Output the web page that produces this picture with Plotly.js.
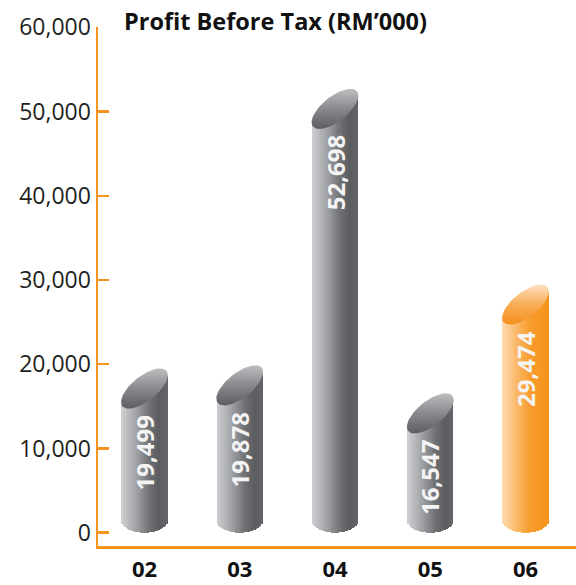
<!DOCTYPE html>
<html>
<head>
<meta charset="utf-8">
<script src="https://cdn.plot.ly/plotly-3.0.1.min.js"></script>
<style>html,body{margin:0;padding:0;background:#fff;}#chart{width:576px;height:585px;}</style>
</head>
<body>
<div id="chart"></div>
<script>
// ---- data ----
const years = ['02', '03', '04', '05', '06'];
const profit = [19499, 19878, 52698, 16547, 29474];
const profitLabels = ['19,499', '19,878', '52,698', '16,547', '29,474'];
const yTickVals = [0, 10000, 20000, 30000, 40000, 50000, 60000];
const chartTitle = 'Profit Before Tax (RM’000)';
const highlightYear = '06';

// ---- layout constants ----
const W = 576, H = 585;
const M = {l: 98, r: 0, t: 27, b: 39};
const xRange = [-0.488, 4.530];
const yRange = [-1579, 60036];
const plotW = W - M.l - M.r, plotH = H - M.t - M.b;
const xpp = (xRange[1] - xRange[0]) / plotW;   // x units per pixel
const ypp = (yRange[1] - yRange[0]) / plotH;   // y units per pixel

const ORANGE = '#f7941d';
const TXT = '#231f20';

// cylinder geometry (pixels)
const R = 23;          // half width
const shear = 0.58;    // slant of the cut top
const capB = 15;       // minor half-axis of the top ellipse
const drop = Math.sqrt(capB * capB + (shear * R) * (shear * R)); // top point above ellipse centre
const botB = 12;       // bottom ellipse half-height

function lerpColor(stops, t) {
  for (let k = 0; k < stops.length - 1; k++) {
    const [t0, c0] = stops[k], [t1, c1] = stops[k + 1];
    if (t >= t0 && t <= t1) {
      const f = (t - t0) / (t1 - t0 || 1);
      const a = [1, 3, 5].map(j => parseInt(c0.substr(j, 2), 16));
      const b = [1, 3, 5].map(j => parseInt(c1.substr(j, 2), 16));
      const c = a.map((v, j) => Math.round(v + (b[j] - v) * f));
      return 'rgb(' + c.join(',') + ')';
    }
  }
  return stops[stops.length - 1][1];
}
const grayBody = [[0, '#cfd0d2'], [0.3, '#a4a6a9'], [0.62, '#6f7073'], [0.82, '#5c5d60'], [1, '#646568']];
const orangeBody = [[0, '#fedcb2'], [0.3, '#fbb96a'], [0.62, '#f89b2c'], [1, '#f7941d']];

const traces = [];
const N = 32;
const sliceW = (2 * R / N) * xpp * 1.25;
for (let k = 0; k < N; k++) {
  const t = (k + 0.5) / N;
  const dx = -R + t * 2 * R;              // px offset from centre
  const xs = years.map((_, i) => i + dx * xpp);
  const bases = years.map(() => (botB - botB * Math.sqrt(Math.max(0, 1 - (dx / R) * (dx / R)))) * ypp);
  const tops = profit.map(v => v - drop * ypp + shear * dx * ypp);
  traces.push({
    type: 'bar',
    x: xs,
    base: bases,
    y: tops.map((tp, i) => tp - bases[i]),
    width: sliceW,
    marker: {
      color: years.map(y => lerpColor(y === highlightYear ? orangeBody : grayBody, t)),
      line: {width: 0}
    },
    hoverinfo: 'skip',
    showlegend: false
  });
}

// slanted top caps
years.forEach((yr, i) => {
  const cy = profit[i] - drop * ypp;
  const xs = [], ys = [];
  for (let a = 0; a <= 72; a++) {
    const th = a / 72 * 2 * Math.PI;
    xs.push(i + (R + 0.4) * Math.cos(th) * xpp);
    ys.push(cy + (capB * Math.sin(th) + shear * R * Math.cos(th)) * ypp);
  }
  const hi = yr === highlightYear;
  traces.push({
    type: 'scatter', mode: 'lines', x: xs, y: ys,
    fill: 'toself',
    line: {width: 0, color: 'rgba(0,0,0,0)'},
    fillgradient: {
      type: 'vertical',
      colorscale: hi
        ? [[0, '#f48f1e'], [0.5, '#f9ad55'], [1, '#fee2c2']]
        : [[0, '#5d5e61'], [0.5, '#88898c'], [1, '#bdbec0']]
    },
    hoverinfo: 'skip', showlegend: false
  });
});

const annotations = years.map((yr, i) => ({
  x: i, y: profit[i] - 45 * ypp, xref: 'x', yref: 'y',
  text: '<b>' + profitLabels[i] + '</b>',
  textangle: -90, showarrow: false,
  xanchor: 'center', yanchor: 'top',
  font: {family: 'Open Sans, sans-serif', size: 24, color: '#f4f4f4'}
}));

const layout = {
  width: W, height: H,
  margin: M,
  paper_bgcolor: '#ffffff', plot_bgcolor: '#ffffff',
  barmode: 'overlay',
  bargap: 0,
  showlegend: false,
  title: {
    text: '<b>' + chartTitle + '</b>',
    font: {family: 'Open Sans, sans-serif', size: 23.5, color: '#111111'},
    x: 124 / W, xref: 'container', xanchor: 'left',
    y: 1 - 22 / H, yref: 'container', yanchor: 'middle'
  },
  xaxis: {
    range: xRange, fixedrange: true,
    tickvals: years.map((_, i) => i), ticktext: years.map(y => '<b>' + y + '</b>'),
    ticks: '', showgrid: false, zeroline: false,
    showline: true, linecolor: ORANGE, linewidth: 2.5,
    ticklabelstandoff: 2,
    tickfont: {family: 'Open Sans, sans-serif', size: 22, color: '#111111'}
  },
  yaxis: {
    range: yRange, fixedrange: true,
    tickvals: yTickVals, tickformat: ',d',
    ticks: 'inside', ticklen: 11, tickwidth: 2.5, tickcolor: ORANGE,
    showgrid: false, zeroline: false,
    showline: true, linecolor: ORANGE, linewidth: 2.5,
    tickfont: {family: 'Open Sans, sans-serif', size: 23, color: TXT}
  },
  annotations: annotations
};

Plotly.newPlot('chart', traces, layout, {staticPlot: true, displayModeBar: false});
</script>
</body>
</html>
